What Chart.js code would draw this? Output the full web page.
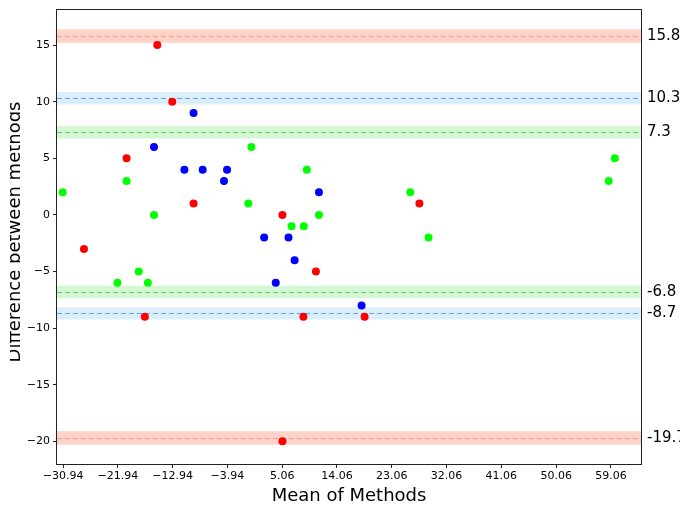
<!DOCTYPE html>
<html>
<head>
<meta charset="utf-8">
<script src="https://cdn.jsdelivr.net/npm/chart.js@4"></script>
<style>
    html, body { margin: 0; padding: 0; background: #fff; }
    #wrap { width: 680px; height: 505px; }
</style>
</head>
<body>
<div id="wrap"><canvas id="baChart" width="680" height="505"></canvas></div>
<script>
// Points, one list per group (mean, difference)
const redMeans  = [-27.5, -15.45, -13.0, -20.5, -9.5, 5.1, 10.6, 8.55, -17.5, 5.1, 27.6, 18.6];
const redDiffs  = [-3, 15, 10, 5, 1, 0, -5, -9, -9, -20, 1, -9];
const blueMeans = [-9.5, -16.0, -11.0, -8.0, -4.5, -4.0, 11.1, 2.1, 6.1, 4.0, 7.1, 18.1];
const blueDiffs = [9, 6, 4, 4, 3, 4, 2, -2, -2, -6, -4, -8];
const greenMeans = [-31.0, -20.5, -16.0, 0.0, -0.5, 6.6, 8.6, 9.1, 11.1, -22.0, -18.5, -17.0, 26.1, 29.1, 59.7, 58.7];
const greenDiffs = [2, 3, 0, 6, 1, -1, -1, 4, 0, -6, -5, -6, 2, -2, 5, 3];

// Limits of agreement (upper / lower) per group, with half width of their bands
const limitValues = [15.8, 10.3, 7.3, -6.8, -8.7, -19.7];
const limitGroup  = ['red', 'blue', 'green', 'green', 'blue', 'red'];
const limitHalf   = [0.6, 0.55, 0.55, 0.55, 0.55, 0.6];

// Tick labels
const xTickValues = [-30.94, -21.94, -12.94, -3.94, 5.06, 14.06, 23.06, 32.06, 41.06, 50.06, 59.06];
const xTickLabels = ['\u221230.94', '\u221221.94', '\u221212.94', '\u22123.94', '5.06', '14.06', '23.06', '32.06', '41.06', '50.06', '59.06'];
const yTickValues = [-20, -15, -10, -5, 0, 5, 10, 15];

const bandStyle = {
    red:   { fill: 'rgb(255,212,200)', line: 'rgb(255,150,138)' },
    blue:  { fill: 'rgb(220,238,250)', line: 'rgb(85,165,255)' },
    green: { fill: 'rgb(212,246,212)', line: 'rgb(90,210,90)' }
};

function toPoints(xs, ys) {
    return xs.map((x, i) => ({ x: x, y: ys[i] }));
}

const minus = v => String(v).replace('-', '\u2212');

// bands, dashed lines, frame and custom texts
const limitsPlugin = {
    id: 'limits',
    beforeDatasetsDraw(chart) {
        const { ctx, chartArea: a, scales: { y } } = chart;
        ctx.save();
        limitValues.forEach((v, i) => {
            const st = bandStyle[limitGroup[i]];
            const top = y.getPixelForValue(v + limitHalf[i]);
            const bot = y.getPixelForValue(v - limitHalf[i]);
            ctx.fillStyle = st.fill;
            ctx.fillRect(a.left, top, a.right - a.left, bot - top);
        });
        limitValues.forEach((v, i) => {
            const st = bandStyle[limitGroup[i]];
            const py = Math.round(y.getPixelForValue(v)) + 0.5;
            ctx.strokeStyle = st.line;
            ctx.lineWidth = 1.2;
            ctx.setLineDash([5, 3]);
            ctx.beginPath();
            ctx.moveTo(a.left, py);
            ctx.lineTo(a.right, py);
            ctx.stroke();
        });
        ctx.restore();
    },
    afterDraw(chart) {
        const { ctx, chartArea: a, scales: { y } } = chart;
        ctx.save();
        ctx.strokeStyle = '#222';
        ctx.lineWidth = 1;
        ctx.setLineDash([]);
        ctx.strokeRect(Math.round(a.left) - 0.5, Math.round(a.top) - 0.5,
            Math.round(a.right - a.left) + 1, Math.round(a.bottom - a.top) + 1);

        // values of the limits, right of the frame
        ctx.fillStyle = '#000';
        ctx.font = '15px "DejaVu Sans"';
        ctx.textAlign = 'left';
        ctx.textBaseline = 'middle';
        limitValues.forEach(v => {
            ctx.fillText(String(v), a.right + 6, y.getPixelForValue(v));
        });

        // axis titles
        ctx.font = '18px "DejaVu Sans"';
        ctx.textAlign = 'center';
        ctx.textBaseline = 'alphabetic';
        ctx.fillText('Mean of Methods', (a.left + a.right) / 2, 501);

        // y title is cut at its top edge like in the source figure
        ctx.beginPath();
        ctx.rect(10, 0, 60, 505);
        ctx.clip();
        ctx.translate(20, 232);
        ctx.rotate(-Math.PI / 2);
        ctx.fillText('Difference between methods', 0, 0);
        ctx.restore();
    }
};

const ctx = document.getElementById('baChart');
new Chart(ctx, {
    type: 'scatter',
    data: {
        datasets: [
            { label: 'red', data: toPoints(redMeans, redDiffs), backgroundColor: '#ff0000', borderWidth: 0, pointRadius: 4 },
            { label: 'blue', data: toPoints(blueMeans, blueDiffs), backgroundColor: '#0000ff', borderWidth: 0, pointRadius: 4 },
            { label: 'green', data: toPoints(greenMeans, greenDiffs), backgroundColor: '#00ff00', borderWidth: 0, pointRadius: 4 }
        ]
    },
    options: {
        responsive: false,
        animation: false,
        events: [],
        layout: { padding: { left: 0, top: 10, right: 39, bottom: 0 } },
        plugins: {
            legend: { display: false },
            tooltip: { enabled: false }
        },
        scales: {
            x: {
                type: 'linear',
                min: -31.93,
                max: 64.0,
                afterBuildTicks: s => { s.ticks = xTickValues.map(v => ({ value: v })); },
                afterFit: s => { s.height = 41; },
                grid: { drawOnChartArea: false, drawTicks: true, tickLength: 4, color: '#222' },
                border: { display: false },
                ticks: {
                    color: '#000',
                    font: { family: 'DejaVu Sans', size: 11 },
                    padding: 2,
                    maxRotation: 0,
                    autoSkip: false,
                    callback: (v, i) => xTickLabels[i]
                }
            },
            y: {
                min: -22.0,
                max: 18.1,
                afterBuildTicks: s => { s.ticks = yTickValues.map(v => ({ value: v })); },
                afterFit: s => { s.width = 57; },
                grid: { drawOnChartArea: false, drawTicks: true, tickLength: 4, color: '#222' },
                border: { display: false },
                ticks: {
                    color: '#000',
                    font: { family: 'DejaVu Sans', size: 11 },
                    padding: 3,
                    autoSkip: false,
                    callback: v => minus(v)
                }
            }
        }
    },
    plugins: [limitsPlugin]
});
</script>
</body>
</html>
